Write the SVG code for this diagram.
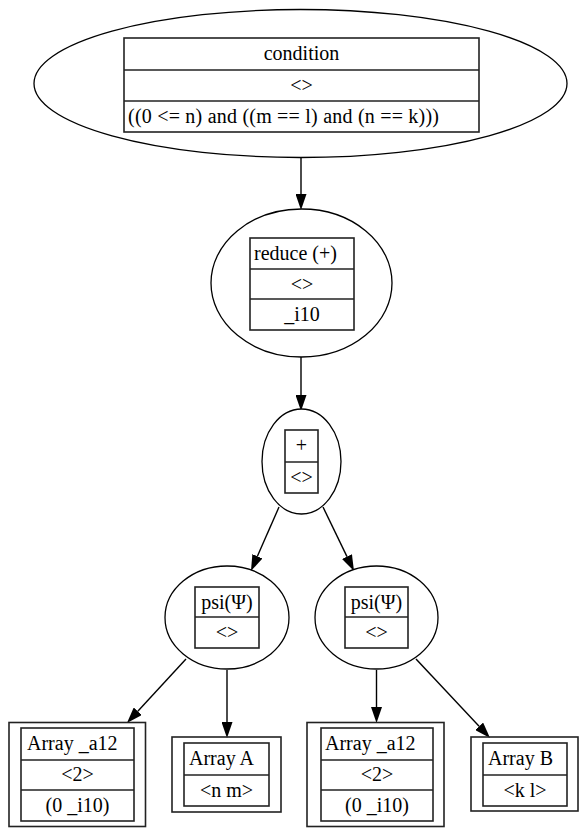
<svg xmlns="http://www.w3.org/2000/svg" width="586" height="834" viewBox="0 0 586 834">
<defs>
<style>
.el{fill:#fff;stroke:#000;stroke-width:1.3}
.tb{fill:none;stroke:#222;stroke-width:1.6}
.ln{stroke:#222;stroke-width:1.6}
.t{font-size:20px;fill:#000}
.c{text-anchor:middle}
.e{fill:none;stroke:#000;stroke-width:1.4}
</style>
<marker id="ah" viewBox="0 0 16 11" refX="0" refY="5.5" markerWidth="16" markerHeight="11" markerUnits="userSpaceOnUse" orient="auto">
<path d="M0,0 L16,5.5 L0,11 Z" fill="#000"/>
</marker>
</defs>
<rect width="586" height="834" fill="#fff"/>
<g id="edges">
<line class="e" x1="301" y1="158" x2="301" y2="194" marker-end="url(#ah)"/>
<line class="e" x1="301" y1="357" x2="301" y2="395" marker-end="url(#ah)"/>
<line class="e" x1="279" y1="507" x2="257.4" y2="556.3" marker-end="url(#ah)"/>
<line class="e" x1="323" y1="507" x2="347" y2="556.6" marker-end="url(#ah)"/>
<line class="e" x1="186" y1="659" x2="137.8" y2="711.2" marker-end="url(#ah)"/>
<line class="e" x1="227" y1="670" x2="227" y2="722" marker-end="url(#ah)"/>
<line class="e" x1="376.5" y1="670" x2="376.5" y2="707" marker-end="url(#ah)"/>
<line class="e" x1="416" y1="659" x2="479.1" y2="726.3" marker-end="url(#ah)"/>
</g>
<g font-family="'Liberation Serif', 'Times New Roman', 'DejaVu Serif', serif">
<g id="condition">
<ellipse class="el" cx="300.5" cy="83.5" rx="266.5" ry="74"/>
<rect class="tb" x="124" y="38" width="355" height="94"/>
<line class="ln" x1="124" y1="70" x2="479" y2="70"/>
<line class="ln" x1="124" y1="101" x2="479" y2="101"/>
<text class="t c" x="301.5" y="60">condition</text>
<text class="t c" x="301.5" y="92">&lt;&gt;</text>
<text class="t" x="128" y="123" textLength="311" lengthAdjust="spacing">((0 &lt;= n) and ((m == l) and (n == k)))</text>
</g>
<g id="reduce">
<ellipse class="el" cx="301.5" cy="283" rx="90.5" ry="74"/>
<rect class="tb" x="250" y="238" width="104" height="92"/>
<line class="ln" x1="250" y1="269" x2="354" y2="269"/>
<line class="ln" x1="250" y1="299" x2="354" y2="299"/>
<text class="t" x="254" y="260">reduce (+)</text>
<text class="t c" x="302" y="291">&lt;&gt;</text>
<text class="t c" x="302" y="321">_i10</text>
</g>
<g id="plus">
<ellipse class="el" cx="301.5" cy="461.5" rx="39.5" ry="52.5"/>
<rect class="tb" x="285" y="430" width="33" height="63"/>
<line class="ln" x1="285" y1="462" x2="318" y2="462"/>
<text class="t c" x="301.5" y="452">+</text>
<text class="t c" x="301.5" y="484">&lt;&gt;</text>
</g>
<g id="psi_left">
<ellipse class="el" cx="227" cy="617.5" rx="62" ry="51.5"/>
<rect class="tb" x="195" y="587" width="64" height="61"/>
<line class="ln" x1="195" y1="617" x2="259" y2="617"/>
<text class="t c" x="227" y="609">psi(Ψ)</text>
<text class="t c" x="227" y="639">&lt;&gt;</text>
</g>
<g id="psi_right">
<ellipse class="el" cx="376.5" cy="617.5" rx="61.5" ry="51.5"/>
<rect class="tb" x="345" y="587" width="63" height="61"/>
<line class="ln" x1="345" y1="617" x2="408" y2="617"/>
<text class="t c" x="376.5" y="609">psi(Ψ)</text>
<text class="t c" x="376.5" y="639">&lt;&gt;</text>
</g>
<g id="array_a12_left">
<rect class="tb" x="9" y="722.5" width="136.5" height="104"/>
<rect class="tb" x="21" y="728" width="113" height="93"/>
<line class="ln" x1="21" y1="760" x2="134" y2="760"/>
<line class="ln" x1="21" y1="790" x2="134" y2="790"/>
<text class="t" x="27" y="750">Array _a12</text>
<text class="t c" x="77.5" y="781">&lt;2&gt;</text>
<text class="t c" x="77.5" y="812">(0 _i10)</text>
</g>
<g id="array_A">
<rect class="tb" x="172" y="737" width="109" height="75"/>
<rect class="tb" x="184" y="743" width="85" height="63"/>
<line class="ln" x1="184" y1="775" x2="269" y2="775"/>
<text class="t" x="189" y="765">Array A</text>
<text class="t c" x="226.5" y="797">&lt;n m&gt;</text>
</g>
<g id="array_a12_right">
<rect class="tb" x="307" y="722.5" width="137" height="104"/>
<rect class="tb" x="321" y="728" width="112" height="93"/>
<line class="ln" x1="321" y1="760" x2="433" y2="760"/>
<line class="ln" x1="321" y1="790" x2="433" y2="790"/>
<text class="t" x="325" y="750">Array _a12</text>
<text class="t c" x="377" y="781">&lt;2&gt;</text>
<text class="t c" x="377" y="812">(0 _i10)</text>
</g>
<g id="array_B">
<rect class="tb" x="471" y="737" width="107" height="74"/>
<rect class="tb" x="483" y="743" width="84" height="63"/>
<line class="ln" x1="483" y1="775" x2="567" y2="775"/>
<text class="t" x="488" y="765">Array B</text>
<text class="t c" x="525" y="797">&lt;k l&gt;</text>
</g>
</g>
</svg>
